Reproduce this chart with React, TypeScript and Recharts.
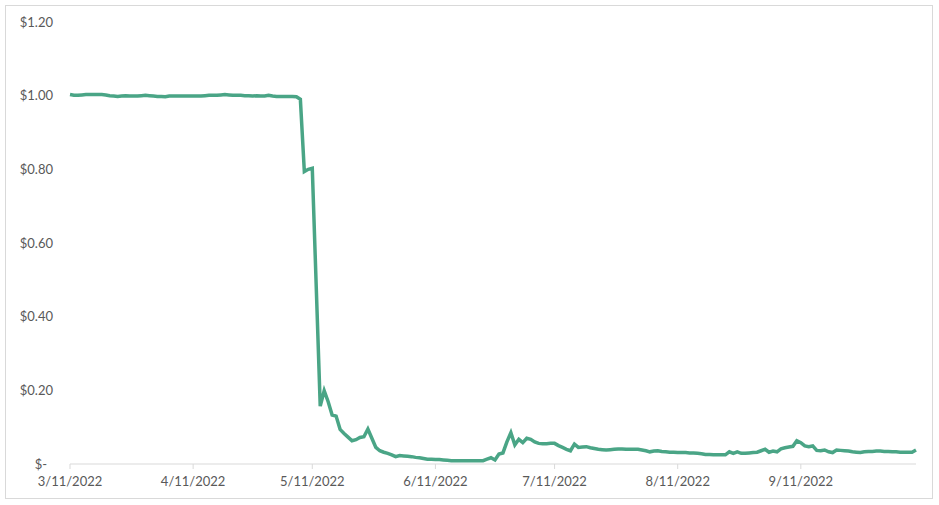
import { LineChart, Line, XAxis, YAxis } from "recharts";

// daily closing price, one list per month (Mar 11 – Oct 10, 2022)
const mar = [1.003, 1.001, 1.001, 1.002, 1.003, 1.003, 1.003, 1.003, 1.003, 1.002, 1.0, 0.999, 0.998, 0.999, 1.0, 0.999, 0.999, 0.999, 1.0, 1.001, 1.0];
const apr = [0.999, 0.998, 0.998, 0.997, 0.999, 0.999, 0.999, 0.999, 0.999, 0.999, 0.999, 0.999, 0.999, 1.0, 1.001, 1.001, 1.001, 1.002, 1.003, 1.002, 1.001, 1.001, 1.001, 1.0, 1.0, 0.999, 1.0, 0.999, 0.999, 1.001];
const may = [0.999, 0.998, 0.998, 0.998, 0.998, 0.998, 0.997, 0.99, 0.794, 0.8, 0.803, 0.48, 0.157, 0.199, 0.169, 0.133, 0.13, 0.094, 0.083, 0.073, 0.063, 0.066, 0.072, 0.074, 0.095, 0.07, 0.045, 0.036, 0.032, 0.029, 0.025];
const jun = [0.02, 0.023, 0.022, 0.021, 0.02, 0.018, 0.017, 0.015, 0.013, 0.013, 0.012, 0.012, 0.011, 0.01, 0.009, 0.009, 0.009, 0.009, 0.009, 0.009, 0.009, 0.009, 0.009, 0.013, 0.017, 0.011, 0.027, 0.03, 0.06, 0.085];
const jul = [0.052, 0.067, 0.058, 0.07, 0.067, 0.06, 0.056, 0.055, 0.055, 0.056, 0.056, 0.05, 0.045, 0.04, 0.036, 0.054, 0.045, 0.046, 0.047, 0.044, 0.042, 0.04, 0.039, 0.038, 0.039, 0.04, 0.041, 0.041, 0.04, 0.04, 0.04];
const aug = [0.04, 0.038, 0.036, 0.033, 0.035, 0.036, 0.034, 0.033, 0.032, 0.032, 0.031, 0.031, 0.031, 0.03, 0.03, 0.029, 0.028, 0.026, 0.026, 0.025, 0.025, 0.025, 0.025, 0.033, 0.029, 0.033, 0.029, 0.029, 0.03, 0.031, 0.032];
const sep = [0.036, 0.04, 0.032, 0.035, 0.033, 0.041, 0.044, 0.046, 0.048, 0.063, 0.058, 0.049, 0.047, 0.049, 0.037, 0.036, 0.038, 0.033, 0.031, 0.038, 0.037, 0.036, 0.035, 0.033, 0.032, 0.031, 0.033, 0.034, 0.034, 0.035];
const oct = [0.035, 0.034, 0.034, 0.033, 0.033, 0.032, 0.032, 0.032, 0.032, 0.038];

const months = [
  { m: 3, first: 11, values: mar },
  { m: 4, first: 1, values: apr },
  { m: 5, first: 1, values: may },
  { m: 6, first: 1, values: jun },
  { m: 7, first: 1, values: jul },
  { m: 8, first: 1, values: aug },
  { m: 9, first: 1, values: sep },
  { m: 10, first: 1, values: oct },
];

const tickLabels = ["3/11/2022", "4/11/2022", "5/11/2022", "6/11/2022", "7/11/2022", "8/11/2022", "9/11/2022"];
const yTicks = [0, 0.2, 0.4, 0.6, 0.8, 1.0, 1.2];

const rows: { day: number; date: string; price: number }[] = [];
months.forEach(({ m, first, values }) =>
  values.forEach((v, i) => rows.push({ day: rows.length, date: `${m}/${first + i}/2022`, price: v }))
);
const xTicks = tickLabels.map((l) => rows.findIndex((r) => r.date === l));

const FONT = "Lato, 'Open Sans', sans-serif";
const GREY = "#595959";

const YTick = ({ x, y, payload }: any) => {
  const zero = payload.value === 0;
  return (
    <text x={zero ? x - 6 : x} y={y} dy="0.35em" textAnchor="end" fill={GREY} fontSize={13} fontFamily={FONT}>
      {zero ? "$-" : `$${payload.value.toFixed(2)}`}
    </text>
  );
};

export default function App() {
  return (
    <div style={{ position: "absolute", left: 0, top: 0, width: 939, height: 505, background: "#fff" }}>
      <div
        style={{
          position: "absolute",
          left: 5,
          top: 5,
          width: 926,
          height: 492,
          border: "1px solid #d9d9d9",
        }}
      />
      <LineChart
        width={939}
        height={505}
        data={rows}
        margin={{ top: 22, right: 23, bottom: 0, left: 0 }}
        style={{ position: "absolute", left: 0, top: 0 }}
      >
        <XAxis
          dataKey="day"
          type="number"
          domain={[0, rows.length - 1]}
          ticks={xTicks}
          tickFormatter={(d: number) => rows[d].date}
          height={41}
          stroke="#d9d9d9"
          tickSize={5}
          tickMargin={8}
          tick={{ fill: GREY, fontSize: 13, fontFamily: FONT }}
          interval={0}
        />
        <YAxis
          domain={[0, 1.2]}
          ticks={yTicks}
          width={70}
          axisLine={false}
          tickLine={false}
          tickSize={0}
          tickMargin={17}
          tick={<YTick />}
          interval={0}
        />
        <Line
          type="linear"
          dataKey="price"
          stroke="#4aa586"
          strokeWidth={3.5}
          dot={false}
          isAnimationActive={false}
        />
      </LineChart>
    </div>
  );
}
